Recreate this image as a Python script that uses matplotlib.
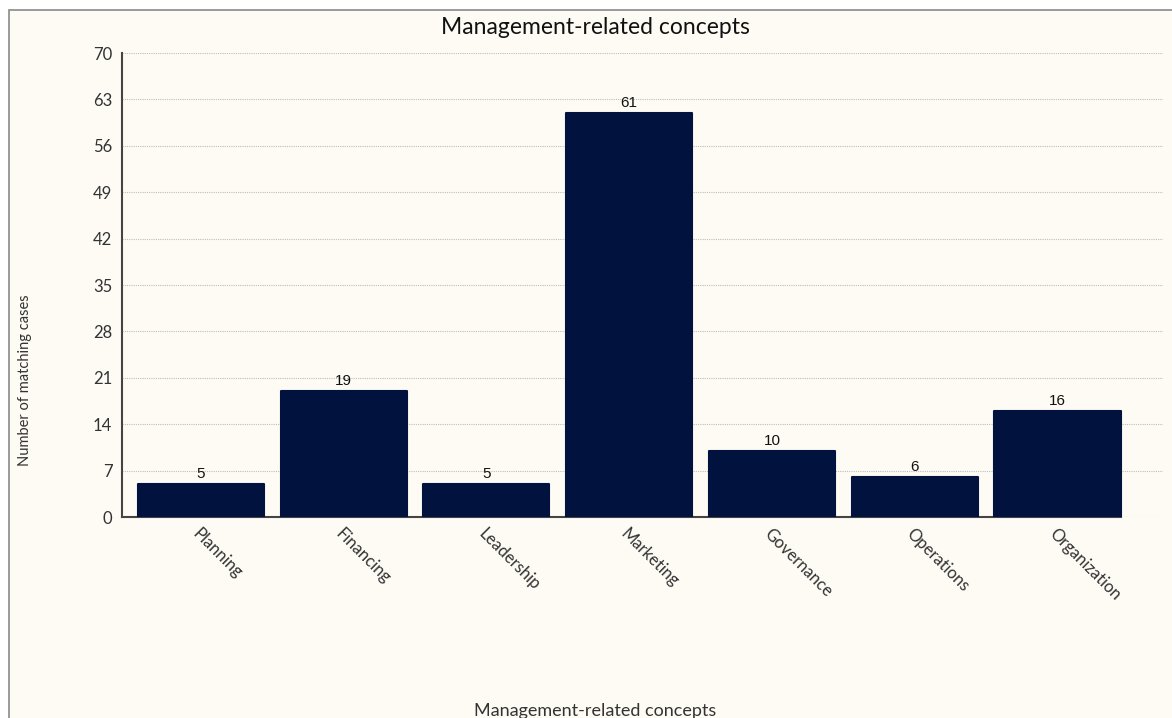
import matplotlib
matplotlib.use("Agg")
import matplotlib.pyplot as plt
import matplotlib.transforms as mtransforms
from matplotlib.patches import Rectangle

categories = ["Planning", "Financing", "Leadership", "Marketing",
              "Governance", "Operations", "Organization"]
counts = [5, 19, 5, 61, 10, 6, 16]
y_ticks = [0, 7, 14, 21, 28, 35, 42, 49, 56, 63, 70]

W, H = 1172, 718
bg = "#FDFBF4"
bar_color = "#02123E"
text_color = "#333333"

fig = plt.figure(figsize=(W / 100, H / 100), dpi=100)
fig.patch.set_facecolor("white")

# cream panel with a thin grey frame on top and left
fig.patches.append(Rectangle((9 / W, -0.1), 1.2, 1.1 - 10 / H, transform=fig.transFigure,
                             facecolor=bg, edgecolor="#8a8a8a", linewidth=1.2, zorder=-5))

ax = fig.add_axes([122 / W, 1 - 517 / H, (1163 - 122) / W, (517 - 53) / H])
ax.set_facecolor("none")
ax.set_zorder(2)

x = list(range(len(categories)))
bars = ax.bar(x, counts, width=0.883, color=bar_color, edgecolor=bar_color,
              linewidth=1.5, zorder=3)
for b in bars:
    b.set_joinstyle("round")

for xi, v in zip(x, counts):
    ax.text(xi, v + 0.45, str(v), ha="center", va="bottom", fontsize=11,
            family="Liberation Sans", color="#111111", zorder=4)

ax.set_xlim(-0.553, 6.739)
ax.set_ylim(0, 70)
ax.set_yticks(y_ticks)
ax.set_yticklabels([str(t) for t in y_ticks], family="Lato", fontsize=12,
                   color=text_color)
ax.set_xticks(x)
ax.set_xticklabels(categories, family="Lato", fontsize=12, color=text_color,
                   rotation=-45, ha="left", va="top", rotation_mode="anchor")
shift = mtransforms.ScaledTranslation(-12 / 100, 0, fig.dpi_scale_trans)
for lab in ax.get_xticklabels():
    lab.set_transform(lab.get_transform() + shift)
ax.tick_params(axis="y", length=0, pad=7)
ax.tick_params(axis="x", length=0, pad=6)

ax.grid(axis="y", linestyle=(0, (1, 1)), color="#bdbdbd", linewidth=0.8, zorder=0)
ax.set_axisbelow(True)

for s in ["top", "right"]:
    ax.spines[s].set_visible(False)
ax.spines["left"].set_color("#444444")
ax.spines["left"].set_linewidth(1.5)
ax.spines["bottom"].set_color("#444444")
ax.spines["bottom"].set_linewidth(1.5)
ax.spines["bottom"].set_bounds(-0.553, 6.4415)

fig.text(595 / W, 1 - 27 / H, "Management-related concepts", ha="center",
         va="center", family="Lato", fontsize=16.5, color="#111111")
fig.text(595 / W, 1 - 711 / H, "Management-related concepts", ha="center",
         va="center", family="Lato", fontsize=13, color=text_color)
fig.text(25 / W, 1 - 380 / H, "Number of matching cases", ha="center",
         va="center", rotation=90, family="Lato", fontsize=10.5, color=text_color)

fig.savefig("out.png", dpi=100, facecolor=fig.get_facecolor())
